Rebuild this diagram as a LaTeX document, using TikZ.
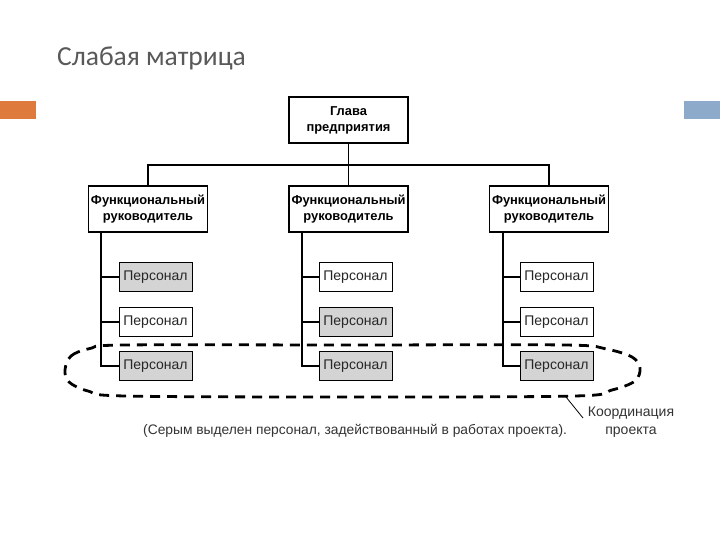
\documentclass[tikz,border=0pt]{standalone}
\usepackage{fontspec}
\setmainfont{Liberation Sans}
\newfontfamily\titlefont{Carlito}
\definecolor{titlegray}{HTML}{595959}
\definecolor{barorange}{HTML}{DD7A3C}
\definecolor{barblue}{HTML}{8EAACB}
\definecolor{staffgray}{HTML}{D4D4D4}
\begin{document}
\begin{tikzpicture}[x=1pt,y=-1pt,
  mgr/.style={draw=black,line width=1.4pt,fill=white,minimum width=119pt,minimum height=46pt,align=center,inner sep=1pt,font=\fontsize{12.9}{16}\selectfont\bfseries},
  staffw/.style={draw=black,line width=1pt,fill=white,minimum width=73pt,minimum height=29pt,inner sep=1pt,font=\fontsize{14}{16}\selectfont\color{black!85}},
  staffg/.style={staffw,fill=staffgray},
  conn/.style={line width=1.4pt},
  note/.style={font=\fontsize{14}{18}\selectfont\color{black!80},align=center}]
\useasboundingbox (0,0) rectangle (720,540);
\fill[white] (0,0) rectangle (720,540);
\node[anchor=base west,inner sep=0pt,text=titlegray,font=\titlefont\fontsize{27.5}{32}\selectfont] (title) at (57,66) {Слабая матрица};
\fill[barorange] (0,101) rectangle (36,119);
\fill[barblue] (684,101) rectangle (720,119);

\node[mgr] (head) at (348.5,120) {Глава\\предприятия};
\node[mgr] (f1) at (148,209) {Функциональный\\руководитель};
\node[mgr] (f2) at (348.5,209) {Функциональный\\руководитель};
\node[mgr] (f3) at (549,209) {Функциональный\\руководитель};

\coordinate (hub) at (348.5,165);
\draw[conn] (head.south) -- (hub);
\draw[conn] (f1.north) -- (f1.north |- hub) -- (f3.north |- hub) -- (f3.north);
\draw[conn] (hub) -- (f2.north);

% staff
\node[staffg] (s11) at (155.5,277) {Персонал};
\node[staffw] (s12) at (155.5,322) {Персонал};
\node[staffg] (s13) at (155.5,366) {Персонал};
\node[staffw] (s21) at (355.5,277) {Персонал};
\node[staffg] (s22) at (355.5,322) {Персонал};
\node[staffg] (s23) at (355.5,366) {Персонал};
\node[staffw] (s31) at (556.5,277) {Персонал};
\node[staffw] (s32) at (556.5,322) {Персонал};
\node[staffg] (s33) at (556.5,366) {Персонал};

\foreach \c/\x in {1/101,2/302,3/503}{
  \coordinate (v\c) at (\x,232);
  \draw[conn] (v\c) -- (\x,366) -- (s\c3.west);
  \draw[conn] (\x,277) -- (s\c1.west);
  \draw[conn] (\x,322) -- (s\c2.west);
}

% dashed coordination outline
\draw[line width=2.8pt,dash pattern=on 10pt off 7pt]
  plot[smooth cycle,tension=0.55] coordinates {
  (65,370) (71,356) (90,348.5) (125,345) (350,345) (565,345) (606,349) (632,357)
  (640,368) (635,381) (612,390) (575,396) (350,397) (125,396) (88,391) (69,382)};

\node[note] (koord) at (631,422) {Координация\\проекта};
\draw[line width=0.8pt] (566,397) -- (583,418);
\node[note,anchor=base west,inner sep=0pt,font=\fontsize{13.8}{18}\selectfont\color{black!80}] (cap) at (143,434) {(Серым выделен персонал, задействованный в работах проекта).};
\end{tikzpicture}
\end{document}
